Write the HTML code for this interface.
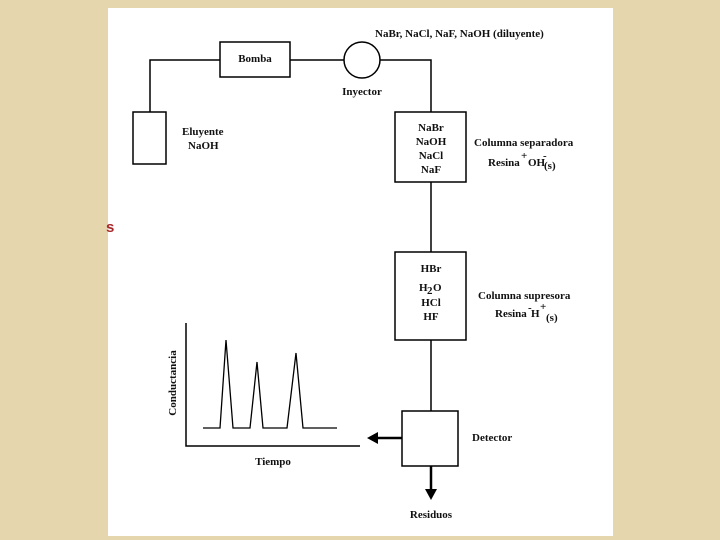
<!DOCTYPE html>
<html><head><style>
body{margin:0;width:720px;height:540px;background:#e6d6ad;overflow:hidden;position:relative;font-family:"Liberation Serif",serif;}
#w{position:absolute;left:108px;top:8px;width:505px;height:528px;background:#fff;}
svg{position:absolute;left:0;top:0}
text{font-family:"Liberation Serif",serif;font-weight:bold;font-size:11px;fill:#111}
</style></head><body>
<div id="w"></div>
<div style="position:absolute;left:106px;top:219px;color:#a8282a;font:bold 15px 'Liberation Sans',sans-serif">s</div>
<svg width="720" height="540" stroke="#000" stroke-width="1.5" fill="none">
<polyline points="150,112 150,60 220,60"/>
<rect x="220" y="42" width="70" height="35"/>
<line x1="290" y1="60" x2="344" y2="60"/>
<circle cx="362" cy="60" r="18"/>
<polyline points="380,60 431,60 431,112"/>
<rect x="133" y="112" width="33" height="52"/>
<rect x="395" y="112" width="71" height="70"/>
<line x1="431" y1="182" x2="431" y2="252"/>
<rect x="395" y="252" width="71" height="88"/>
<line x1="431" y1="340" x2="431" y2="411"/>
<rect x="402" y="411" width="56" height="55"/>
<line x1="402" y1="438" x2="375" y2="438" stroke-width="2.5"/>
<polygon points="367,438 378,432 378,444" fill="#000" stroke="none"/>
<line x1="431" y1="466" x2="431" y2="490" stroke-width="2.5"/>
<polygon points="425,489 437,489 431,500" fill="#000" stroke="none"/>
<polyline points="186,323 186,446 360,446"/>
<polyline points="203,428 220,428 226,340 233,428 250,428 257,362 263,428 287,428 296,353 303,428 337,428" stroke-width="1.3"/>
<g stroke="none">
<text x="375" y="37">NaBr, NaCl, NaF, NaOH (diluyente)</text>
<text x="255" y="62" text-anchor="middle">Bomba</text>
<text x="362" y="95" text-anchor="middle">Inyector</text>
<text x="182" y="135">Eluyente</text>
<text x="188" y="149">NaOH</text>
<text x="431" y="131" text-anchor="middle">NaBr</text>
<text x="431" y="145" text-anchor="middle">NaOH</text>
<text x="431" y="159" text-anchor="middle">NaCl</text>
<text x="431" y="173" text-anchor="middle">NaF</text>
<text x="474" y="146">Columna separadora</text>
<text x="488" y="166">Resina</text><text x="521" y="159" font-size="9">+</text><text x="528" y="166">OH</text><text x="543" y="159" font-size="9">-</text><text x="544" y="169" font-size="9">(s)</text>
<text x="431" y="272" text-anchor="middle">HBr</text>
<text x="419" y="291">H</text><text x="427" y="294" font-size="9">2</text><text x="433" y="291">O</text>
<text x="431" y="306" text-anchor="middle">HCl</text>
<text x="431" y="320" text-anchor="middle">HF</text>
<text x="478" y="299">Columna supresora</text>
<text x="495" y="317">Resina</text><text x="528" y="311" font-size="9">-</text><text x="531" y="317">H</text><text x="540" y="310" font-size="9">+</text><text x="546" y="321" font-size="9">(s)</text>
<text x="472" y="441">Detector</text>
<text x="273" y="465" text-anchor="middle">Tiempo</text>
<text x="431" y="518" text-anchor="middle">Residuos</text>
<text transform="translate(176,383) rotate(-90)" text-anchor="middle">Conductancia</text>
</g>
</svg>
</body></html>
